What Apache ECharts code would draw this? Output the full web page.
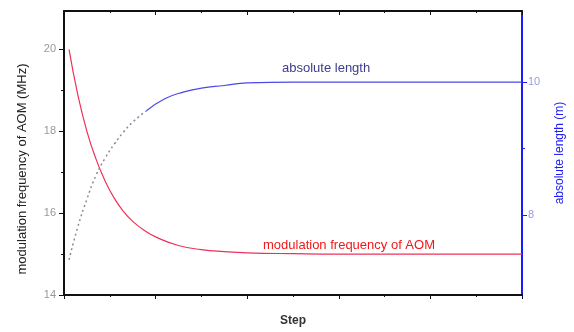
<!DOCTYPE html>
<html><head><meta charset="utf-8">
<script src="https://cdn.jsdelivr.net/npm/echarts@6/dist/echarts.min.js"></script>
<style>html,body{margin:0;padding:0;background:#fff}#c{width:574px;height:332px}</style>
</head><body><div id="c"></div>
<script>
// Data
const freqSteps = [0.11, 0.3, 0.5, 0.7, 0.9, 1.1, 1.3, 1.5, 1.75, 2.0, 2.5, 3.0, 3.5, 4.0, 5.0, 6.0, 10.0];
const freqValues = [20.0, 18.9, 18.0, 17.32, 16.78, 16.36, 16.04, 15.8, 15.58, 15.42, 15.21, 15.11, 15.06, 15.03, 15.01, 15.0, 15.0];
const lenDottedSteps = [0.11, 0.3, 0.5, 0.7, 0.9, 1.1, 1.3, 1.5, 1.8];
const lenDottedValues = [7.33, 7.82, 8.24, 8.6, 8.86, 9.07, 9.25, 9.4, 9.57];
const lenSolidSteps = [1.8, 2.2, 2.6, 3.0, 3.5, 4.0, 5.0, 10.0];
const lenSolidValues = [9.57, 9.75, 9.85, 9.91, 9.95, 9.99, 10.0, 10.0];
const leftTicks = [14, 16, 18, 20];
const rightTicks = [8, 10];
const rightMinorTicks = [9];

const zip = (a, b) => a.map((x, i) => [x, b[i]]);
const chart = echarts.init(document.getElementById('c'));
const font = 'Arial, "Liberation Sans", sans-serif';
const rMin = 6.8, rMax = 11.07;
chart.setOption({
  animation: false,
  backgroundColor: '#fff',
  grid: { left: 64, right: 52, top: 11, bottom: 33 },
  xAxis: [{
    type: 'value', min: 0, max: 10, interval: 2, position: 'bottom',
    name: 'Step', nameLocation: 'middle', nameGap: 20,
    nameTextStyle: { fontFamily: font, fontWeight: 'bold', fontSize: 12, color: '#333' },
    axisLine: { onZero: false, lineStyle: { color: '#111', width: 2 } },
    axisTick: { show: true, length: 4, lineStyle: { color: '#111', width: 1 } },
    minorTick: { show: true, splitNumber: 2, length: 2, lineStyle: { color: '#111', width: 1 } },
    axisLabel: { show: false }, splitLine: { show: false }
  }, {
    type: 'value', min: 0, max: 10, interval: 2, position: 'top',
    axisLine: { show: true, onZero: false, lineStyle: { color: '#111', width: 2 } },
    axisTick: { show: true, inside: true, length: 4, lineStyle: { color: '#111', width: 1 } },
    minorTick: { show: true, splitNumber: 2, length: 2, lineStyle: { color: '#111', width: 1 } },
    axisLabel: { show: false }, splitLine: { show: false }
  }],
  yAxis: [{
    type: 'value', min: 14, max: 20.94, interval: 2, position: 'left',
    axisLine: { show: true, onZero: false, lineStyle: { color: '#111', width: 2 } },
    axisTick: { show: true, length: 5, customValues: leftTicks, lineStyle: { color: '#111' } },
    minorTick: { show: true, splitNumber: 2, length: 3, lineStyle: { color: '#111' } },
    axisLabel: { color: '#999', fontSize: 11, fontFamily: font, margin: 8, customValues: leftTicks },
    splitLine: { show: false }
  }, {
    type: 'value', min: rMin, max: rMax, position: 'right',
    axisLine: { show: true, onZero: false, lineStyle: { color: '#1a1aff', width: 2 } },
    axisTick: { show: true, length: 5, customValues: rightTicks, lineStyle: { color: '#1a1aff' } },
    axisLabel: { color: '#9a9ae6', fontSize: 11, fontFamily: font, margin: 6, customValues: rightTicks },
    splitLine: { show: false }
  }, {
    type: 'value', min: rMin, max: rMax, position: 'right',
    axisLine: { show: false, onZero: false },
    axisTick: { show: true, length: 3, customValues: rightMinorTicks, lineStyle: { color: '#1a1aff' } },
    axisLabel: { show: false }, splitLine: { show: false }
  }],
  graphic: [
    { type: 'text', rotation: Math.PI / 2, position: [22, 169],
      style: { text: 'modulation frequency of AOM (MHz)', fill: '#222', font: '13px ' + font,
               textAlign: 'center', textVerticalAlign: 'middle', x: 0, y: 0 } },
    { type: 'text', rotation: Math.PI / 2, position: [560, 153],
      style: { text: 'absolute length (m)', fill: '#2020ee', font: '12px ' + font,
               textAlign: 'center', textVerticalAlign: 'middle', x: 0, y: 0 } },
    { type: 'text', position: [282, 68],
      style: { text: 'absolute length', fill: '#3c3c8c', font: '13px ' + font,
               textVerticalAlign: 'middle' } },
    { type: 'text', position: [263, 245],
      style: { text: 'modulation frequency of AOM', fill: '#f01818', font: '13px ' + font,
               textVerticalAlign: 'middle' } }
  ],
  series: [{
    type: 'line', xAxisIndex: 0, yAxisIndex: 0, data: zip(freqSteps, freqValues),
    smooth: true, showSymbol: false, lineStyle: { color: '#f0305a', width: 1.2 }
  }, {
    type: 'line', xAxisIndex: 0, yAxisIndex: 1, data: zip(lenDottedSteps, lenDottedValues),
    smooth: true, showSymbol: false, lineStyle: { color: '#8a8a9a', width: 1.5, type: [2, 3] }
  }, {
    type: 'line', xAxisIndex: 0, yAxisIndex: 1, data: zip(lenSolidSteps, lenSolidValues),
    smooth: true, showSymbol: false, lineStyle: { color: '#4a4ae8', width: 1.2 }
  }]
});
</script></body></html>
